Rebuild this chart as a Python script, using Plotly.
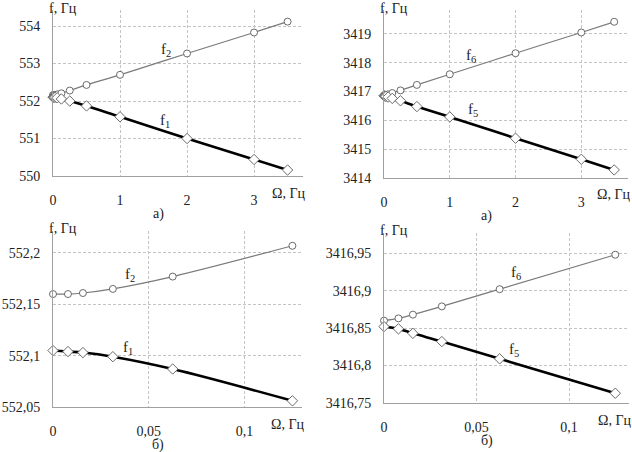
import plotly.graph_objects as go

# -- rotation speed, Hz
omega = [0, 0.0078125, 0.015625, 0.03125, 0.0625, 0.125, 0.25, 0.5, 1, 2, 3, 3.5]
omega_small = omega[:6]

# -- frequencies
f1 = [552.105, 552.104, 552.103, 552.099, 552.087, 552.056, 552.0, 551.87, 551.58, 551.0, 550.44, 550.16]
f2 = [552.160, 552.160, 552.161, 552.165, 552.177, 552.207, 552.28, 552.43, 552.70, 553.27, 553.83, 554.12]
f5 = [3416.852, 3416.849, 3416.843, 3416.832, 3416.809, 3416.763, 3416.68, 3416.48, 3416.12, 3415.38, 3414.65, 3414.28]
f6 = [3416.860, 3416.863, 3416.868, 3416.879, 3416.902, 3416.948, 3417.04, 3417.23, 3417.60, 3418.33, 3419.05, 3419.42]

# -- tick labels (comma decimals)
xt_big = [0, 1, 2, 3]
xt_small = [0, 0.05, 0.1]
xt_small_txt = ["0", "0,05", "0,1"]
yt_tl = [550, 551, 552, 553, 554]
yt_tr = [3414, 3415, 3416, 3417, 3418, 3419]
yt_bl = [552.05, 552.1, 552.15, 552.2]
yt_bl_txt = ["552,05", "552,1", "552,15", "552,2"]
yt_br = [3416.75, 3416.8, 3416.85, 3416.9, 3416.95]
yt_br_txt = ["3416,75", "3416,8", "3416,85", "3416,9", "3416,95"]

W, H = 632, 452
FONT = "Times New Roman"
TXT = "#222"


def px_x(p):
    return p / W


def px_y(p):
    return 1 - p / H


fig = go.Figure()

#-- panels: (axis suffix, x px domain, y px domain, x range, y range, ticks...)
panels = [
    ("", (53, 303), (10, 176), [0, 3.73], [550, 554.43],
     xt_big, [str(v) for v in xt_big], yt_tl, [str(v) for v in yt_tl],
     omega, f2, f1, "а)", ("f<sub>2</sub>", 166, 50), ("f<sub>1</sub>", 165, 121)),
    ("2", (384, 628), (10, 178), [0, 3.71], [3414, 3419.83],
     xt_big, [str(v) for v in xt_big], yt_tr, [str(v) for v in yt_tr],
     omega, f6, f5, "а)", ("f<sub>6</sub>", 471, 56), ("f<sub>5</sub>", 473, 110)),
    ("3", (53, 302), (231, 407), [0, 0.13], [552.05, 552.2214],
     xt_small, xt_small_txt, yt_bl, yt_bl_txt,
     omega_small, f2[:6], f1[:6], "б)", ("f<sub>2</sub>", 130, 275), ("f<sub>1</sub>", 128, 348)),
    ("4", (384, 629), (233, 403), [0, 0.1324], [3416.75, 3416.977],
     xt_small, xt_small_txt, yt_br, yt_br_txt,
     omega_small, f6[:6], f5[:6], "б)", ("f<sub>6</sub>", 516, 273), ("f<sub>5</sub>", 514, 350)),
]

for (sfx, dx, dy, xr, yr, xtv, xtt, ytv, ytt, xs, upper, lower,
     letter, lab_up, lab_lo) in panels:
    xa = "x" + sfx
    ya = "y" + sfx

    #-- upper branch: thin grey line, open circles
    fig.add_trace(go.Scatter(
        x=xs, y=upper, xaxis=xa, yaxis=ya, mode="lines+markers",
        line=dict(color="#7a7a7a", width=1.2, shape="spline"),
        marker=dict(symbol="circle", size=7, color="white",
                    line=dict(color="#6a6a6a", width=1)),
        showlegend=False, cliponaxis=False))
    #-- lower branch: thick black line, open diamonds
    fig.add_trace(go.Scatter(
        x=xs, y=lower, xaxis=xa, yaxis=ya, mode="lines+markers",
        line=dict(color="black", width=2.6, shape="spline"),
        marker=dict(symbol="diamond", size=8, color="white",
                    line=dict(color="#6a6a6a", width=1)),
        showlegend=False, cliponaxis=False))

    common = dict(showline=True, linecolor="#a0a0a0", linewidth=1,
                  showgrid=True, gridcolor="#c4c4c4", griddash="3px,2px",
                  gridwidth=1, zeroline=False, ticks="", automargin=False,
                  tickfont=dict(family=FONT, size=14, color=TXT))
    fig.layout["xaxis" + sfx] = dict(
        common, domain=[px_x(dx[0]), px_x(dx[1])], range=xr,
        tickvals=xtv, ticktext=xtt, anchor=ya, ticklabelstandoff=11)
    fig.layout["yaxis" + sfx] = dict(
        common, domain=[px_y(dy[1]), px_y(dy[0])], range=yr,
        tickvals=ytv, ticktext=ytt, anchor=xa, ticklabelstandoff=9)

    #-- axis captions
    fig.add_annotation(x=px_x(dx[0] - 6), y=px_y(dy[0] - 2), xref="paper", yref="paper",
                       text="f, Гц", showarrow=False, xanchor="left", yanchor="middle",
                       font=dict(family=FONT, size=14, color=TXT))
    fig.add_annotation(x=px_x(dx[1] + 4), y=px_y(dy[1] + 17), xref="paper", yref="paper",
                       text="Ω, Гц", showarrow=False, xanchor="right", yanchor="middle",
                       font=dict(family=FONT, size=14, color=TXT))
    #-- panel letter
    fig.add_annotation(x=px_x((dx[0] + dx[1]) / 2 - 20), y=px_y(dy[1] + 38),
                       xref="paper", yref="paper", text=letter, showarrow=False,
                       xanchor="center", yanchor="middle",
                       font=dict(family=FONT, size=14, color=TXT))
    #-- curve labels
    for txt, lx, ly in (lab_up, lab_lo):
        fig.add_annotation(x=px_x(lx), y=px_y(ly), xref="paper", yref="paper",
                           text=txt, showarrow=False,
                           xanchor="center", yanchor="middle",
                           font=dict(family=FONT, size=15, color=TXT))

fig.update_layout(width=W, height=H, margin=dict(l=0, r=0, t=0, b=0),
                  paper_bgcolor="white", plot_bgcolor="white",
                  font=dict(family=FONT))

#-- page body has a default 8px margin; drop it so the figure sits at 0,0
fig.write_html("out.html", config={"displayModeBar": False},
               post_script="document.body.style.margin='0';")
